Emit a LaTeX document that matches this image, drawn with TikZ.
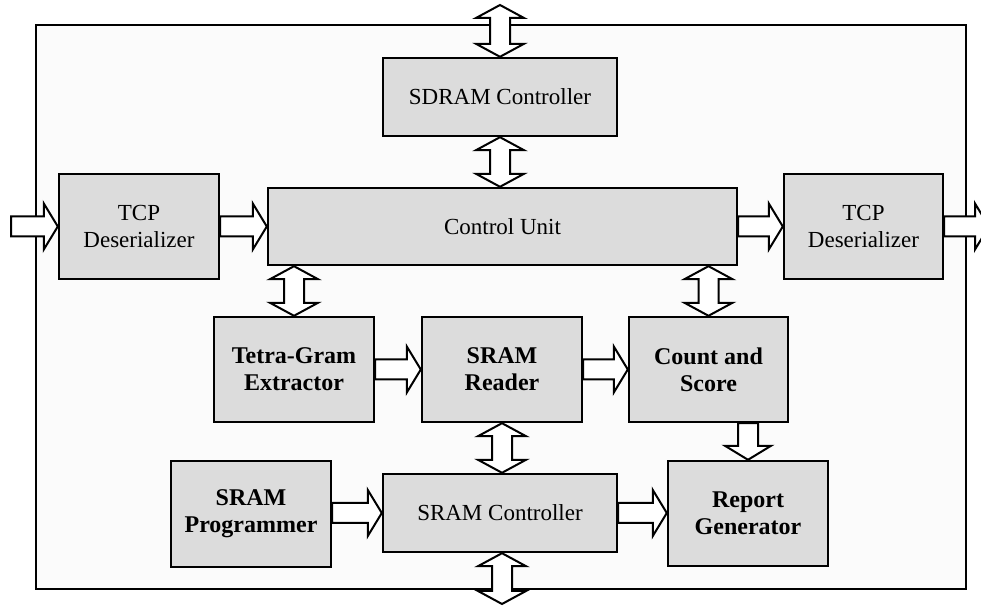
\documentclass[tikz,border=0pt]{standalone}
\usepackage{fontspec}
\setmainfont{Liberation Serif}
\usetikzlibrary{calc}
\definecolor{boxgray}{HTML}{DCDCDC}
\definecolor{framebg}{HTML}{FBFBFB}
\tikzset{
    block/.style={draw, line width=1.2pt, fill=boxgray, align=center,
        inner sep=0pt, font=\fontsize{11.5}{13.5}\selectfont},
    bblock/.style={block, font=\fontsize{12}{13.5}\selectfont\bfseries},
    fat/.style={draw, line width=1pt, fill=white, line join=miter},
}
% hollow block arrows between named points
\newcommand{\rightarr}[2]{\draw[fat] let \p1=(#1), \p2=(#2) in
    (\x1,\y1+5pt) -- (\x2-7pt,\y1+5pt) -- (\x2-7pt,\y1+11.5pt) -- (\x2,\y1)
    -- (\x2-7pt,\y1-11.5pt) -- (\x2-7pt,\y1-5pt) -- (\x1,\y1-5pt) -- cycle;}
\newcommand{\downarr}[2]{\draw[fat] let \p1=(#1), \p2=(#2) in
    (\x1-5pt,\y1) -- (\x1-5pt,\y2+7pt) -- (\x1-11.5pt,\y2+7pt) -- (\x1,\y2)
    -- (\x1+11.5pt,\y2+7pt) -- (\x1+5pt,\y2+7pt) -- (\x1+5pt,\y1) -- cycle;}
\newcommand{\updownarr}[2]{\draw[fat] let \p1=(#1), \p2=(#2) in
    (\x1,\y1) -- (\x1+12pt,\y1-6.5pt) -- (\x1+5pt,\y1-6.5pt) -- (\x1+5pt,\y2+6.5pt)
    -- (\x1+12pt,\y2+6.5pt) -- (\x1,\y2) -- (\x1-12pt,\y2+6.5pt) -- (\x1-5pt,\y2+6.5pt)
    -- (\x1-5pt,\y1-6.5pt) -- (\x1-12pt,\y1-6.5pt) -- cycle;}
\begin{document}
\begin{tikzpicture}[x=0.5pt, y=-0.5pt]
    \useasboundingbox[fill=white] (0,0) rectangle (981,608);
    \draw[line width=1.3pt, fill=framebg] (36,25) rectangle (966,589);

    \node[block, minimum width=117pt, minimum height=39pt] (sdram) at (500,97) {SDRAM Controller};
    \node[block, minimum width=234.5pt, minimum height=38.5pt] (cu) at (502.5,226.5) {Control Unit};
    \node[block, minimum width=80pt, minimum height=52.5pt] (tcpl) at (139,226.5) {TCP\\Deserializer};
    \node[block, minimum width=79.5pt, minimum height=52.5pt] (tcpr) at (863.5,226.5) {TCP\\Deserializer};
    \node[bblock, minimum width=80pt, minimum height=52.5pt] (tetra) at (294,369.5) {Tetra-Gram\\Extractor};
    \node[bblock, minimum width=80pt, minimum height=52.5pt] (reader) at (502,369.5) {SRAM\\Reader};
    \node[bblock, minimum width=79.5pt, minimum height=52.5pt] (count) at (708.5,369.5) {Count and\\Score};
    \node[bblock, minimum width=80pt, minimum height=53pt] (prog) at (251,514) {SRAM\\Programmer};
    \node[block, minimum width=117pt, minimum height=39pt] (sramc) at (500,513) {SRAM Controller};
    \node[bblock, minimum width=80pt, minimum height=52.5pt] (report) at (748,513.5) {Report\\Generator};

    \coordinate (inL) at (11,226.5);
    \coordinate (outR) at (989,226.5);
    \coordinate (topT) at (500,5);
    \coordinate (botT) at (502,604);

    \rightarr{inL}{tcpl.west}
    \rightarr{tcpl.east}{cu.west}
    \rightarr{cu.east}{tcpr.west}
    \rightarr{tcpr.east}{outR}
    \rightarr{tetra.east}{reader.west}
    \rightarr{reader.east}{count.west}
    \rightarr{prog.east |- sramc.west}{sramc.west}
    \rightarr{sramc.east}{report.west |- sramc.east}
    \downarr{report.north |- count.south}{report.north}
    \updownarr{topT}{sdram.north}
    \updownarr{sdram.south}{cu.north -| sdram.south}
    \updownarr{tetra.north |- cu.south}{tetra.north}
    \updownarr{count.north |- cu.south}{count.north}
    \updownarr{reader.south}{sramc.north -| reader.south}
    \updownarr{sramc.south -| botT}{botT}
\end{tikzpicture}
\end{document}
